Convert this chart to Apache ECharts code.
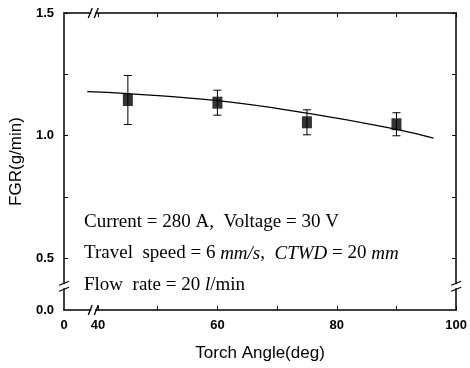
<!DOCTYPE html>
<html>
<head>
<meta charset="utf-8">
<script src="https://cdn.jsdelivr.net/npm/echarts@6/dist/echarts.min.js"></script>
<style>
  html, body { margin: 0; padding: 0; background: #fff; }
  #chart { width: 470px; height: 368px; }
</style>
</head>
<body>
<div id="chart"></div>
<script>
// measured points (mean FGR with error bar half-heights)
var angles = [45, 60, 75, 90];
var fgr = [1.145, 1.134, 1.054, 1.046];
var errs = [0.100, 0.051, 0.051, 0.047];

// fitted curve
var fitAngles = [38.2, 45, 60, 75, 90, 96.2];
var fitFgr = [1.179, 1.171, 1.142, 1.091, 1.025, 0.989];

// tick labels (axes are broken between 0 and the first real tick)
var xTickLabels = [0, 40, 60, 80, 100];
var yTickLabels = [0.0, 0.5, 1.0, 1.5];
var xMinorTicks = [40, 50, 60, 70, 80, 90, 100];
var yMinorTicks = [0.5, 0.75, 1.0, 1.25, 1.5];

// where the "0" of each broken axis sits on the compressed scale
var xZeroAt = 34.3;
var yZeroAt = 0.288;

var chart = echarts.init(document.getElementById('chart'));

function xPos(v) { return v < 40 ? xZeroAt : v; }
function yPos(v) { return v < 0.5 ? yZeroAt : v; }

var xLabelVals = xTickLabels.map(xPos);
var yLabelVals = yTickLabels.map(yPos);

var axisLineStyle = { color: '#000', width: 1.5 };
var tickStyle = { color: '#000', width: 1 };
var sans = 'Liberation Sans, Arial, sans-serif';
var serif = 'Liberation Serif, Times New Roman, serif';

function xAxisCfg(pos, labels) {
  return {
    type: 'value', position: pos, min: xZeroAt, max: 100,
    axisLine: { show: true, onZero: false, lineStyle: axisLineStyle },
    axisTick: { show: true, inside: true, length: 4, customValues: xMinorTicks, lineStyle: tickStyle },
    axisLabel: {
      show: labels, customValues: xLabelVals, margin: 9,
      color: '#000', fontFamily: sans, fontSize: 13, fontWeight: 'bold',
      formatter: function (v) { return v < 40 ? '0' : String(Math.round(v)); }
    },
    splitLine: { show: false }
  };
}
function yAxisCfg(pos, labels) {
  return {
    type: 'value', position: pos, min: yZeroAt, max: 1.5,
    axisLine: { show: true, onZero: false, lineStyle: axisLineStyle },
    axisTick: { show: true, inside: true, length: 4, customValues: yMinorTicks, lineStyle: tickStyle },
    axisLabel: {
      show: labels, customValues: yLabelVals, margin: 10,
      color: '#000', fontFamily: sans, fontSize: 13, fontWeight: 'bold',
      formatter: function (v) { return v < 0.5 ? '0.0' : v.toFixed(1); }
    },
    splitLine: { show: false }
  };
}

var xMain = xAxisCfg('bottom', true);
xMain.name = 'Torch Angle(deg)';
xMain.nameLocation = 'middle';
xMain.nameGap = 35;
xMain.nameTextStyle = { color: '#000', fontFamily: sans, fontSize: 17 };

var yMain = yAxisCfg('left', true);
yMain.name = 'FGR(g/min)';
yMain.nameLocation = 'middle';
yMain.nameGap = 38;
yMain.nameTextStyle = { color: '#000', fontFamily: sans, fontSize: 17 };

var points = angles.map(function (a, i) { return [a, fgr[i]]; });
var bars = angles.map(function (a, i) { return [a, fgr[i] - errs[i], fgr[i] + errs[i]]; });
var fit = fitAngles.map(function (a, i) { return [a, fitFgr[i]]; });

var rich = {
  n: { fontFamily: serif, fontSize: 19, fill: '#000' },
  i: { fontFamily: serif, fontSize: 19, fontStyle: 'italic', fill: '#000' }
};
var noteLines = [
  '{n|Current = 280 A,  Voltage = 30 V}',
  '{n|Travel  speed = 6 }{i|mm/s}{n|,  }{i|CTWD}{n| = 20 }{i|mm}',
  '{n|Flow  rate = 20 }{i|l}{n|/min}'
];

chart.setOption({
  animation: false,
  backgroundColor: '#fff',
  grid: { left: 64, right: 12, top: 13, bottom: 58 },
  xAxis: [xMain, xAxisCfg('top', false)],
  yAxis: [yMain, yAxisCfg('right', false)],
  series: [
    {
      type: 'line', data: fit, smooth: true, showSymbol: false,
      lineStyle: { color: '#000', width: 1.3 }, z: 2
    },
    {
      type: 'custom', data: bars, z: 3,
      renderItem: function (params, api) {
        var x = api.value(0);
        var lo = api.coord([x, api.value(1)]);
        var hi = api.coord([x, api.value(2)]);
        var w = 4;
        var st = { stroke: '#000', lineWidth: 1 };
        return {
          type: 'group',
          children: [
            { type: 'line', shape: { x1: lo[0], y1: lo[1], x2: hi[0], y2: hi[1] }, style: st },
            { type: 'line', shape: { x1: lo[0] - w, y1: lo[1], x2: lo[0] + w, y2: lo[1] }, style: st },
            { type: 'line', shape: { x1: hi[0] - w, y1: hi[1], x2: hi[0] + w, y2: hi[1] }, style: st }
          ]
        };
      }
    },
    {
      type: 'scatter', data: points, symbol: 'rect', symbolSize: [10, 12],
      itemStyle: { color: '#000' }, z: 4
    }
  ]
});

// break marks and the condition notes
var gfx = [];
var pxLeft = chart.convertToPixel({ xAxisIndex: 0 }, xZeroAt);
var pxRight = chart.convertToPixel({ xAxisIndex: 0 }, 100);
var pyTop = chart.convertToPixel({ yAxisIndex: 0 }, 1.5);
var pyBottom = chart.convertToPixel({ yAxisIndex: 0 }, yZeroAt);
var bx = chart.convertToPixel({ xAxisIndex: 0 }, 39.2);
var by = chart.convertToPixel({ yAxisIndex: 0 }, 0.385);
var mark = { stroke: '#000', lineWidth: 1.3 };

[pyTop, pyBottom].forEach(function (yy) {
  gfx.push({ type: 'rect', shape: { x: bx - 2, y: yy - 2, width: 4, height: 4 }, style: { fill: '#fff' }, z: 50 });
  gfx.push({ type: 'line', shape: { x1: bx - 5, y1: yy + 5, x2: bx - 1, y2: yy - 5 }, style: mark, z: 51 });
  gfx.push({ type: 'line', shape: { x1: bx + 1, y1: yy + 5, x2: bx + 5, y2: yy - 5 }, style: mark, z: 51 });
});
[pxLeft, pxRight].forEach(function (xx) {
  gfx.push({ type: 'rect', shape: { x: xx - 2, y: by - 2, width: 4, height: 4 }, style: { fill: '#fff' }, z: 50 });
  gfx.push({ type: 'line', shape: { x1: xx - 5, y1: by - 1, x2: xx + 5, y2: by - 5 }, style: mark, z: 51 });
  gfx.push({ type: 'line', shape: { x1: xx - 5, y1: by + 5, x2: xx + 5, y2: by + 1 }, style: mark, z: 51 });
});

noteLines.forEach(function (t, i) {
  gfx.push({
    type: 'text', x: 84, y: 222 + i * 31.5, z: 60,
    style: { text: t, rich: rich, verticalAlign: 'middle', align: 'left' }
  });
});

chart.setOption({ graphic: gfx });
</script>
</body>
</html>
